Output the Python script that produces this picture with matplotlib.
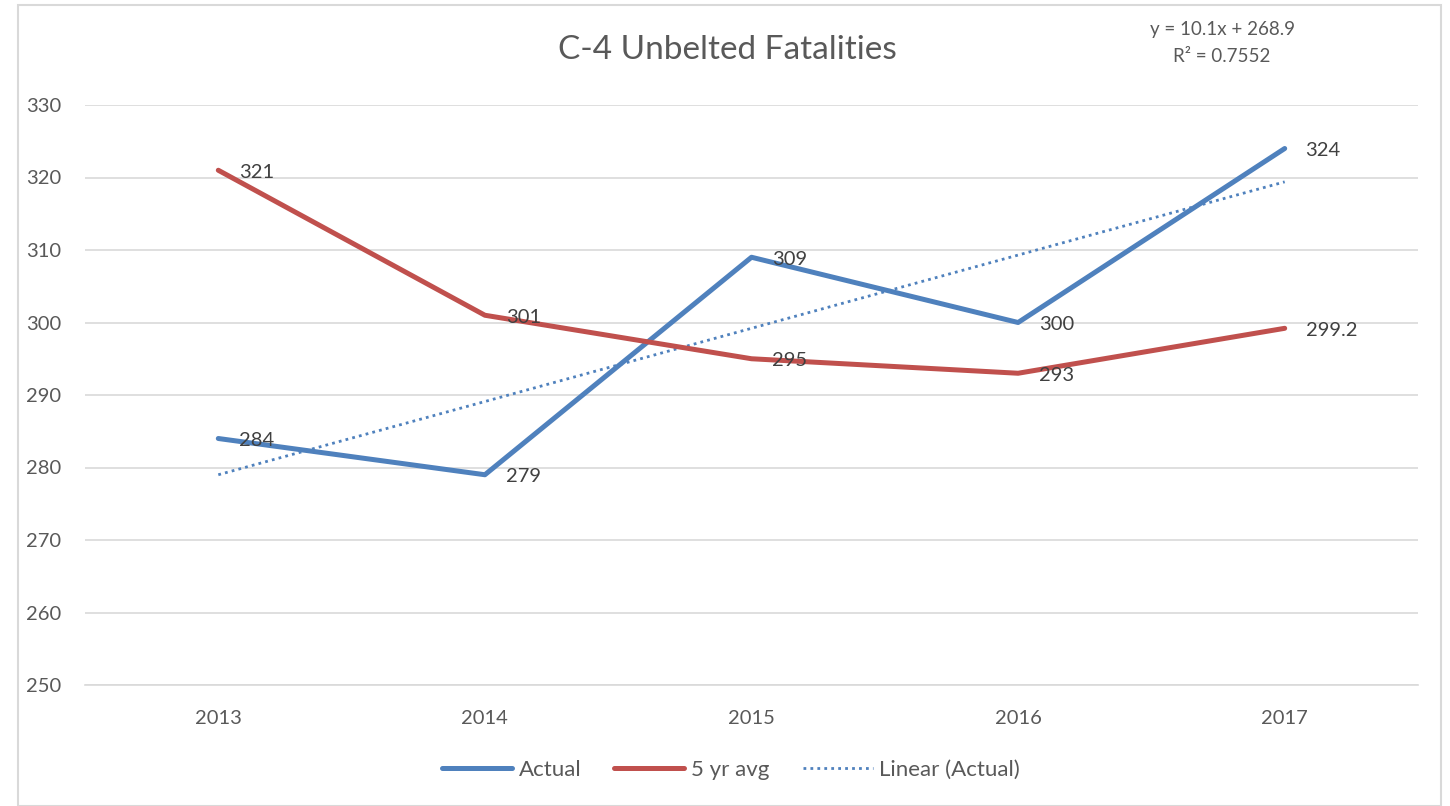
import matplotlib
matplotlib.use("Agg")
import matplotlib.pyplot as plt
import numpy as np
from matplotlib.patches import Rectangle

years = ["2013", "2014", "2015", "2016", "2017"]
actual = [284, 279, 309, 300, 324]
avg5 = [321, 301, 295, 293, 299.2]
actual_labels = ["284", "279", "309", "300", "324"]
avg_labels = ["321", "301", "295", "293", "299.2"]
yticks = [250, 260, 270, 280, 290, 300, 310, 320, 330]

plt.rcParams['font.family'] = ['Lato', 'DejaVu Sans']
TXT = '#595959'
BLUE = '#4F81BD'
RED = '#C0504D'

fig = plt.figure(figsize=(14.5, 8.06), dpi=100)
ax = fig.add_axes([85/1450, 1-685/806, (1418-85)/1450, (685-105)/806])

x = np.arange(len(years))
# trendline via least squares on actual (x = 1..n)
xs = np.arange(1, len(actual)+1)
slope, intercept = np.polyfit(xs, actual, 1)
trend = slope*xs + intercept

la, = ax.plot(x, actual, color=BLUE, lw=3.6, solid_capstyle='round', zorder=3, label='Actual')
lr, = ax.plot(x, avg5, color=RED, lw=3.6, solid_capstyle='round', zorder=3, label='5 yr avg')
lt, = ax.plot(x, trend, color=BLUE, lw=2.0, linestyle=(0, (1, 1.5)), zorder=2, label='Linear (Actual)')

for xi, v, s in zip(x, actual, actual_labels):
    ax.annotate(s, (xi, v), xytext=(15, -1.5), textcoords='offset points', va='center', ha='left',
                fontsize=14.5, color='#404040')
for xi, v, s in zip(x, avg5, avg_labels):
    ax.annotate(s, (xi, v), xytext=(15, -1.5), textcoords='offset points', va='center', ha='left',
                fontsize=14.5, color='#404040')

ax.set_xlim(-0.5, len(years)-0.5)
ax.set_ylim(250, 330)
ax.set_yticks(yticks)
ax.set_xticks(x)
ax.set_xticklabels(years)
ax.tick_params(axis='both', length=0, labelsize=14.5, labelcolor=TXT)
ax.tick_params(axis='y', pad=17)
ax.tick_params(axis='x', pad=18)
ax.grid(axis='y', color='#D9D9D9', lw=1.2)
ax.set_axisbelow(True)
for sp in ['top', 'right', 'left']:
    ax.spines[sp].set_visible(False)
ax.spines['bottom'].set_color('#D9D9D9')
ax.spines['bottom'].set_linewidth(1.2)

fig.text(727/1450, 1-50/806, 'C-4 Unbelted Fatalities', ha='center', va='center', fontsize=24, color=TXT)
fig.text(1222/1450, 1-29/806, 'y = 10.1x + 268.9', ha='center', va='center', fontsize=13.5, color=TXT)
fig.text(1222/1450, 1-56/806, 'R² = 0.7552', ha='center', va='center', fontsize=13.5, color=TXT)

fig.legend(handles=[la, lr, lt], loc='center', bbox_to_anchor=(731/1450, 1-770/806), ncol=3,
           frameon=False, fontsize=16, labelcolor=TXT, handlelength=3.15, columnspacing=1.5, handletextpad=0.3)

fig.patches.append(Rectangle((18/1450, 0.5/806), (1441-18)/1450, (801-0.5)/806, transform=fig.transFigure,
                             fill=False, edgecolor='#D9D9D9', lw=1.5))

fig.savefig('out.png', dpi=100, facecolor='white')
